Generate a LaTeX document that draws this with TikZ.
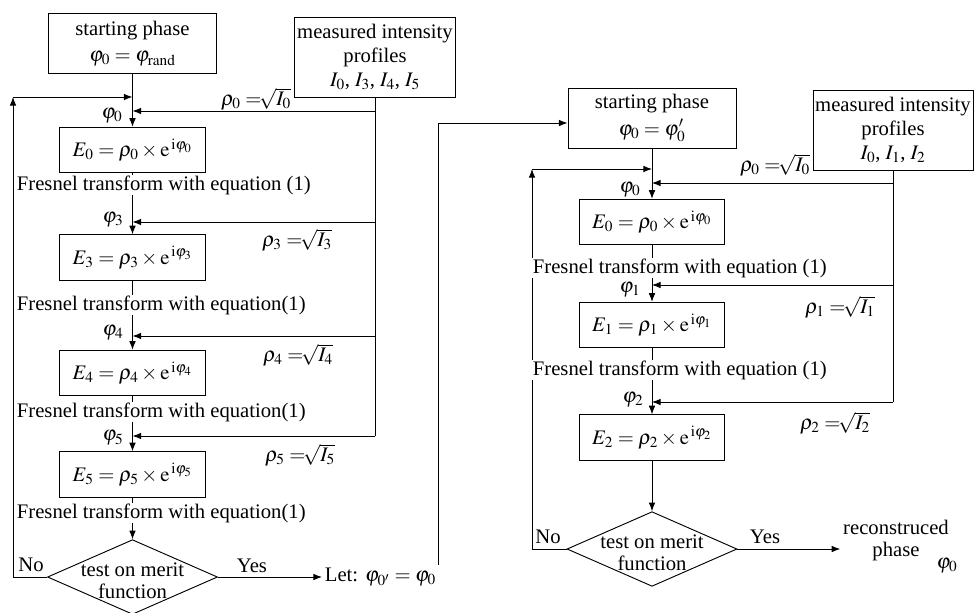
\documentclass[tikz,border=0pt]{standalone}
\usepackage{mathptmx}
\usepackage{fontspec}
\setmainfont{Liberation Serif}
\usetikzlibrary{arrows.meta,shapes.geometric}

\newcommand{\gsfont}{\fontsize{15.5}{18}\selectfont}
\newcommand{\gstight}{\fontsize{15.5}{16.5}\selectfont}
\newcommand{\gsamp}[1]{$\rho_{#1}\;{=}\!\sqrt{I_{#1}}$}

\tikzset{
  gsstart/.style={draw, line width=0.7pt, align=center, minimum width=126pt, minimum height=45pt, inner sep=1pt},
  gsmeas/.style={draw, line width=0.7pt, align=center, minimum width=121pt, minimum height=60pt, inner sep=1pt},
  gsfield/.style={draw, line width=0.7pt, minimum width=109pt, minimum height=34pt, inner sep=1pt},
  gstest/.style={diamond, draw, line width=0.7pt, minimum width=127.5pt, minimum height=56pt, inner sep=0pt},
  gsnote/.style={fill=white, inner sep=0.5pt, anchor=west},
  gslab/.style={inner sep=0pt},
  gsline/.style={line width=0.7pt},
  gsarr/.style={-{Latex[length=6.5pt,width=5pt]}, line width=0.7pt}
}

\begin{document}
\begin{tikzpicture}[x=0.75pt, y=-0.75pt, font=\gsfont]
        \useasboundingbox (0,0) rectangle (974,612);

        % left loop
        \node[gsstart] (start1) at (132.5,43.5) {starting phase\\[2pt]$\varphi_0=\varphi_{\mathrm{rand}}$};
        \node[gsmeas] (meas1) at (375,57) {measured intensity\\profiles\\$I_0$,~$I_3$,~$I_4$,~$I_5$};
        \node[gsfield] (E0L) at (132.5,150) {$E_0=\rho_0\times\mathrm{e}^{\,\mathrm{i}\varphi_0}$};
        \node[gsfield] (E3L) at (132.5,257.5) {$E_3=\rho_3\times\mathrm{e}^{\,\mathrm{i}\varphi_3}$};
        \node[gsfield] (E4L) at (132.5,373) {$E_4=\rho_4\times\mathrm{e}^{\,\mathrm{i}\varphi_4}$};
        \node[gsfield] (E5L) at (132.5,474.5) {$E_5=\rho_5\times\mathrm{e}^{\,\mathrm{i}\varphi_5}$};
        \node[gstest, label={[font=\gstight, align=center, yshift=-3pt]center:test on merit\\function}] (dec1) at (132.5,577) {};
        \node[anchor=west, inner sep=2pt] (let) at (322,577) {Let: $\varphi_{0'}=\varphi_0$};

        \coordinate (fbL) at (13,97);
        \draw[gsarr] (start1.south) -- (E0L.north);
        \draw[gsarr] (E0L.south) -- (E3L.north);
        \draw[gsarr] (E3L.south) -- (E4L.north);
        \draw[gsarr] (E4L.south) -- (E5L.north);
        \draw[gsarr] (E5L.south) -- (dec1.north);
        \draw[gsarr] (dec1.west) -| (fbL);
        \draw[gsarr] (fbL) -- (fbL -| E0L.north);
        \draw[gsline] (meas1.south) -- (meas1.south |- 0,436);
        \foreach \y in {111,222,336,436}
          \draw[gsarr] (meas1.south |- 0,\y) -- (E0L.north |- 0,\y);
        \draw[gsarr] (dec1.east) -- (let.west);

        \node[gsnote] (fr0L) at (16,185) {Fresnel transform with equation (1)};
        \node[gsnote] (fr3L) at (16,305) {Fresnel transform with equation(1)};
        \node[gsnote] (fr4L) at (16,412) {Fresnel transform with equation(1)};
        \node[gsnote] (fr5L) at (16,513) {Fresnel transform with equation(1)};

        \node[gslab] (p0L) at (112,116) {$\varphi_0$};
        \node[gslab] (p3L) at (113,220) {$\varphi_3$};
        \node[gslab] (p4L) at (113,333) {$\varphi_4$};
        \node[gslab] (p5L) at (113,438) {$\varphi_5$};
        \node[gslab] (r0L) at (256,99) {\gsamp{0}};
        \node[gslab] (r3L) at (297,240) {\gsamp{3}};
        \node[gslab] (r4L) at (298,355) {\gsamp{4}};
        \node[gslab] (r5L) at (300,455) {\gsamp{5}};
        \node[gslab] (noL) at (31,565) {No};
        \node[gslab] (yesL) at (252,566) {Yes};

        % right loop
        \node[gsstart] (start2) at (652,118) {starting phase\\[2pt]$\varphi_0=\varphi_0'$};
        \node[gsmeas, minimum width=120pt] (meas2) at (893,130) {measured intensity\\profiles\\$I_0$,~$I_1$,~$I_2$};
        \node[gsfield] (E0R) at (652,222) {$E_0=\rho_0\times\mathrm{e}^{\,\mathrm{i}\varphi_0}$};
        \node[gsfield] (E1R) at (652,325) {$E_1=\rho_1\times\mathrm{e}^{\,\mathrm{i}\varphi_1}$};
        \node[gsfield] (E2R) at (652,437.5) {$E_2=\rho_2\times\mathrm{e}^{\,\mathrm{i}\varphi_2}$};
        \node[gstest, label={[font=\gstight, align=center, yshift=-3pt]center:test on merit\\function}] (dec2) at (652,549) {};
        \node[align=center, font=\gstight, inner sep=2pt] (recon) at (896,541) {reconstruced\\phase};
        \node[gslab] (phiout) at (947,566) {$\varphi_0$};

        \coordinate (fbR) at (532,169);
        \draw[gsarr] (let.north east) |- ([yshift=-3.75pt]start2.west);
        \draw[gsarr] (start2.south) -- (E0R.north);
        \draw[gsarr] (E0R.south) -- (E1R.north);
        \draw[gsarr] (E1R.south) -- (E2R.north);
        \draw[gsarr] (E2R.south) -- (dec2.north);
        \draw[gsarr] (dec2.west) -| (fbR);
        \draw[gsarr] (fbR) -- (fbR -| E0R.north);
        \draw[gsline] (meas2.south) -- (meas2.south |- 0,402);
        \foreach \y in {183,285,402}
          \draw[gsarr] (meas2.south |- 0,\y) -- (E0R.north |- 0,\y);
        \draw[gsarr] (dec2.east) -- (dec2.east -| recon.west);

        \node[gsnote] (fr0R) at (532,268) {Fresnel transform with equation (1)};
        \node[gsnote] (fr1R) at (532,370) {Fresnel transform with equation (1)};

        \node[gslab] (p0R) at (630,190) {$\varphi_0$};
        \node[gslab] (p1R) at (630,290) {$\varphi_1$};
        \node[gslab] (p2R) at (633,400) {$\varphi_2$};
        \node[gslab] (r0R) at (775,165) {\gsamp{0}};
        \node[gslab] (r1R) at (840,307) {\gsamp{1}};
        \node[gslab] (r2R) at (835,423) {\gsamp{2}};
        \node[gslab] (noR) at (548,537) {No};
        \node[gslab] (yesR) at (765,537) {Yes};
    \end{tikzpicture}
\end{document}
